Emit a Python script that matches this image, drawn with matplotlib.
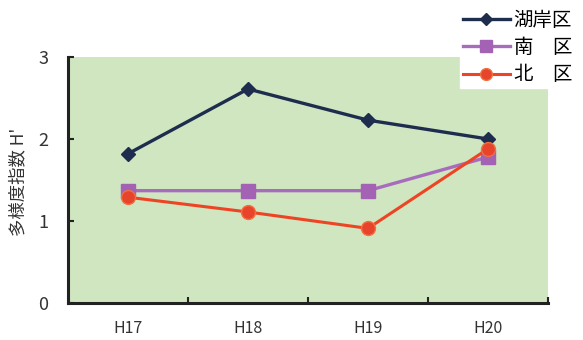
import matplotlib.pyplot as plt
import numpy as np

plt.rcParams['font.family'] = ['Noto Sans CJK JP', 'DejaVu Sans']

# survey years and diversity index per district
years = ["H17", "H18", "H19", "H20"]
kogan = [1.82, 2.61, 2.23, 2.00]
minami = [1.37, 1.37, 1.37, 1.78]
kita = [1.29, 1.11, 0.91, 1.88]

fig = plt.figure(figsize=(5.83, 3.4), dpi=100)
ax = fig.add_axes([68 / 583, 37 / 340, 480 / 583, 246 / 340])
ax.set_facecolor("#cfe6c0")

x = np.arange(len(years))
ax.plot(x, kogan, color="#1e2d4e", lw=2.4, marker="D", ms=7,
        mfc="#1e2d4e", mec="#1e2d4e", label="湖岸区", zorder=3)
ax.plot(x, minami, color="#a86cbc", lw=2.4, marker="s", ms=10,
        mfc="#a462b4", mec="#a462b4", label="南\u3000区", zorder=2)
ax.plot(x, kita, color="#ee4424", lw=2.2, marker="o", ms=10,
        mfc="#e8442c", mec="#f07040", label="北\u3000区", zorder=4)

ax.set_xlim(-0.5, 3.5)
ax.set_ylim(0, 3)

# category labels in the middle, small ticks on the boundaries
ax.set_xticks(x)
ax.set_xticklabels(years, fontsize=11.5, color="#333333")
ax.set_xticks([0.5, 1.5, 2.5, 3.5], minor=True)
ax.tick_params(axis="x", which="major", length=0, pad=12)
ax.tick_params(axis="x", which="minor", direction="in", length=4, width=1.5, color="#222222")

ax.set_yticks([0, 1, 2, 3])
ax.tick_params(axis="y", direction="in", length=4, width=1.5, color="#222222",
               labelsize=13, pad=14, labelcolor="#333333")
fig.text(18 / 583, 1 - 182 / 340, "多様度指数 H'", rotation=90, ha="center", va="center",
         fontsize=12.5, color="#333333")

for side in ["top", "right"]:
    ax.spines[side].set_visible(False)
for side in ["left", "bottom"]:
    ax.spines[side].set_linewidth(2.2)
    ax.spines[side].set_color("#222222")

leg = fig.legend(loc="upper right", bbox_to_anchor=(1 - 6 / 583, 1 - 5 / 340), frameon=True,
                 fontsize=14, handlelength=2.4, handletextpad=0.2,
                 labelspacing=0.32, borderpad=0.15, borderaxespad=0.1,
                 fancybox=False, markerscale=0.85)
leg.get_frame().set_facecolor("white")
leg.get_frame().set_edgecolor("white")
leg.get_frame().set_alpha(1)
leg.set_zorder(10)

fig.savefig("out.png", dpi=100, facecolor="white")
